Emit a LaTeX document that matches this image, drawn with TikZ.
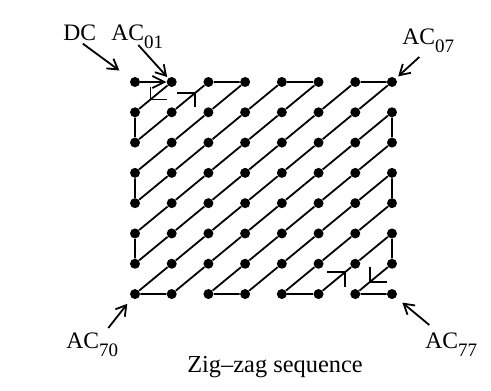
\documentclass[tikz,border=0pt]{standalone}
\usepackage{fontspec}
\setmainfont{Liberation Serif}
\usetikzlibrary{arrows.meta,calc}

\newcommand\acsub[1]{\raisebox{-4pt}{\fontsize{9.5}{10}\selectfont#1}}

\begin{document}
\begin{tikzpicture}[x=0.5pt,y=-0.5pt,>={Straight Barb[length=5pt,width=6pt]},
  dot/.style={circle,fill,inner sep=0pt,minimum size=5pt},
  lbl/.style={font=\fontsize{11.8}{13}\selectfont,inner sep=1pt,anchor=base west},
  zz/.style={line width=0.9pt}]
\useasboundingbox (0,0) rectangle (491,390);
\foreach \r in {0,...,7}
  \foreach \c in {0,...,7}
    \node[dot] (p\r\c) at ({135+36.71*\c},{82+30.29*\r}) {};
\draw[zz,-{Straight Barb[length=6pt,width=6pt]}] (p00) -- (p01);
\draw[zz] (p01) -- (p10) -- (p20) -- (p11) -- (p02) -- (p03) -- (p12) -- (p21) -- (p30)
  -- (p40) -- (p31) -- (p22) -- (p13) -- (p04) -- (p05) -- (p14) -- (p23) -- (p32) -- (p41) -- (p50)
  -- (p60) -- (p51) -- (p42) -- (p33) -- (p24) -- (p15) -- (p06) -- (p07) -- (p16) -- (p25) -- (p34)
  -- (p43) -- (p52) -- (p61) -- (p70) -- (p71) -- (p62) -- (p53) -- (p44) -- (p35) -- (p26) -- (p17)
  -- (p27) -- (p36) -- (p45) -- (p54) -- (p63) -- (p72) -- (p73) -- (p64) -- (p55) -- (p46) -- (p37)
  -- (p47) -- (p56) -- (p65) -- (p74) -- (p75) -- (p66) -- (p57) -- (p67) -- (p76) -- (p77);
\coordinate (m1) at ($(p01)!0.58!(p10)$);
\coordinate (m2) at ($(p20)!0.82!(p02)$);
\coordinate (m3) at ($(p75)!0.72!(p66)$);
\coordinate (m4) at ($(p67)!0.6!(p76)$);
\draw[zz] ($(m1)+(0,-13)$) -- (m1) -- ++(17,0);
\draw[zz] ($(m2)+(-18,0)$) -- (m2) -- ++(0,14);
\draw[zz] ($(m3)+(-18,0)$) -- (m3) -- ++(0,15);
\draw[zz] ($(m4)+(0,-15)$) -- (m4) -- ++(17,0);
\node[lbl] (dc) at (61,41) {DC};
\node[lbl] (ac01) at (109,41) {AC\acsub{01}};
\node[lbl] (ac07) at (400,45) {AC\acsub{07}};
\node[lbl] (ac70) at (64,348) {AC\acsub{70}};
\node[lbl] (ac77) at (423,348) {AC\acsub{77}};
\draw[zz,->,shorten >=7pt] ($(dc.south)+(3,0)$) -- (p00);
\draw[zz,->,shorten >=0.7pt] ($(ac01.base)+(1,4)$) -- (p01);
\draw[zz,->,shorten >=1.5pt] ($(ac07.base)+(-9,12)$) -- (p07);
\draw[zz,->,shorten >=3.5pt] ($(ac70.base)+(16,-20)$) -- (p70);
\draw[zz,->,shorten >=4pt] ($(ac77.base)+(-22,-23)$) -- (p77);
\node[font=\fontsize{12.2}{14}\selectfont,anchor=base] (caption) at (275,372) {Zig--zag sequence};
\end{tikzpicture}
\end{document}
